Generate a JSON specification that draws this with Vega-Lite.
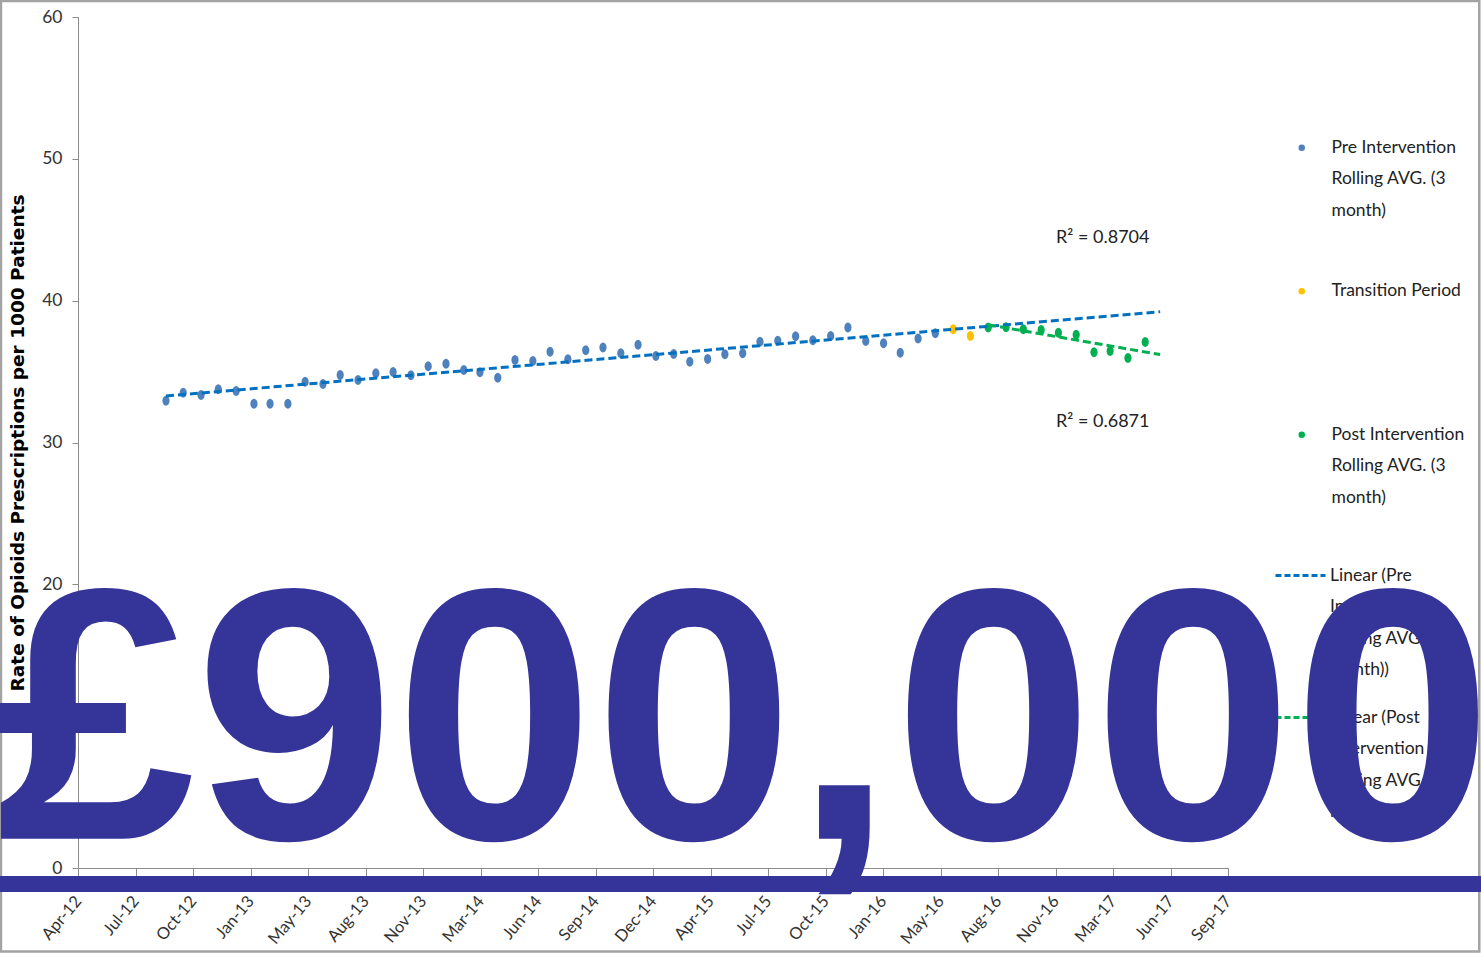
{
  "$schema": "https://vega.github.io/schema/vega-lite/v6.json",
  "width": 1150,
  "height": 851,
  "autosize": {"type": "none"},
  "padding": {"left": 78, "top": 17, "right": 253, "bottom": 86},
  "background": "white",
  "config": {
    "view": {"stroke": null},
    "font": "Lato",
    "style": {"guide-label": {"lineHeight": 31.5}}
  },
  "title": {
    "text": "£900,000",
    "orient": "bottom",
    "anchor": "middle",
    "frame": "group",
    "font": "Liberation Sans",
    "fontWeight": "bold",
    "fontSize": 359,
    "color": "#343499",
    "baseline": "alphabetic",
    "offset": -114,
    "dx": 91,
    "limit": 3000
  },
  "datasets": {
    "pts": [
      {"date": "2012-09-01", "value": 32.95, "series": "Pre Intervention Rolling AVG. (3 month)"},
      {"date": "2012-10-01", "value": 33.51, "series": "Pre Intervention Rolling AVG. (3 month)"},
      {"date": "2012-11-01", "value": 33.35, "series": "Pre Intervention Rolling AVG. (3 month)"},
      {"date": "2012-12-01", "value": 33.75, "series": "Pre Intervention Rolling AVG. (3 month)"},
      {"date": "2013-01-01", "value": 33.63, "series": "Pre Intervention Rolling AVG. (3 month)"},
      {"date": "2013-02-01", "value": 32.74, "series": "Pre Intervention Rolling AVG. (3 month)"},
      {"date": "2013-03-01", "value": 32.74, "series": "Pre Intervention Rolling AVG. (3 month)"},
      {"date": "2013-04-01", "value": 32.74, "series": "Pre Intervention Rolling AVG. (3 month)"},
      {"date": "2013-05-01", "value": 34.29, "series": "Pre Intervention Rolling AVG. (3 month)"},
      {"date": "2013-06-01", "value": 34.13, "series": "Pre Intervention Rolling AVG. (3 month)"},
      {"date": "2013-07-01", "value": 34.76, "series": "Pre Intervention Rolling AVG. (3 month)"},
      {"date": "2013-08-01", "value": 34.41, "series": "Pre Intervention Rolling AVG. (3 month)"},
      {"date": "2013-09-01", "value": 34.88, "series": "Pre Intervention Rolling AVG. (3 month)"},
      {"date": "2013-10-01", "value": 34.97, "series": "Pre Intervention Rolling AVG. (3 month)"},
      {"date": "2013-11-01", "value": 34.74, "series": "Pre Intervention Rolling AVG. (3 month)"},
      {"date": "2013-12-01", "value": 35.37, "series": "Pre Intervention Rolling AVG. (3 month)"},
      {"date": "2014-01-01", "value": 35.56, "series": "Pre Intervention Rolling AVG. (3 month)"},
      {"date": "2014-02-01", "value": 35.11, "series": "Pre Intervention Rolling AVG. (3 month)"},
      {"date": "2014-03-01", "value": 34.95, "series": "Pre Intervention Rolling AVG. (3 month)"},
      {"date": "2014-04-01", "value": 34.57, "series": "Pre Intervention Rolling AVG. (3 month)"},
      {"date": "2014-05-01", "value": 35.82, "series": "Pre Intervention Rolling AVG. (3 month)"},
      {"date": "2014-06-01", "value": 35.75, "series": "Pre Intervention Rolling AVG. (3 month)"},
      {"date": "2014-07-01", "value": 36.40, "series": "Pre Intervention Rolling AVG. (3 month)"},
      {"date": "2014-08-01", "value": 35.87, "series": "Pre Intervention Rolling AVG. (3 month)"},
      {"date": "2014-09-01", "value": 36.50, "series": "Pre Intervention Rolling AVG. (3 month)"},
      {"date": "2014-10-01", "value": 36.69, "series": "Pre Intervention Rolling AVG. (3 month)"},
      {"date": "2014-11-01", "value": 36.29, "series": "Pre Intervention Rolling AVG. (3 month)"},
      {"date": "2014-12-01", "value": 36.90, "series": "Pre Intervention Rolling AVG. (3 month)"},
      {"date": "2015-01-01", "value": 36.10, "series": "Pre Intervention Rolling AVG. (3 month)"},
      {"date": "2015-02-01", "value": 36.24, "series": "Pre Intervention Rolling AVG. (3 month)"},
      {"date": "2015-03-01", "value": 35.70, "series": "Pre Intervention Rolling AVG. (3 month)"},
      {"date": "2015-04-01", "value": 35.89, "series": "Pre Intervention Rolling AVG. (3 month)"},
      {"date": "2015-05-01", "value": 36.22, "series": "Pre Intervention Rolling AVG. (3 month)"},
      {"date": "2015-06-01", "value": 36.29, "series": "Pre Intervention Rolling AVG. (3 month)"},
      {"date": "2015-07-01", "value": 37.11, "series": "Pre Intervention Rolling AVG. (3 month)"},
      {"date": "2015-08-01", "value": 37.18, "series": "Pre Intervention Rolling AVG. (3 month)"},
      {"date": "2015-09-01", "value": 37.49, "series": "Pre Intervention Rolling AVG. (3 month)"},
      {"date": "2015-10-01", "value": 37.21, "series": "Pre Intervention Rolling AVG. (3 month)"},
      {"date": "2015-11-01", "value": 37.51, "series": "Pre Intervention Rolling AVG. (3 month)"},
      {"date": "2015-12-01", "value": 38.10, "series": "Pre Intervention Rolling AVG. (3 month)"},
      {"date": "2016-01-01", "value": 37.16, "series": "Pre Intervention Rolling AVG. (3 month)"},
      {"date": "2016-02-01", "value": 36.99, "series": "Pre Intervention Rolling AVG. (3 month)"},
      {"date": "2016-03-01", "value": 36.33, "series": "Pre Intervention Rolling AVG. (3 month)"},
      {"date": "2016-04-01", "value": 37.33, "series": "Pre Intervention Rolling AVG. (3 month)"},
      {"date": "2016-05-01", "value": 37.70, "series": "Pre Intervention Rolling AVG. (3 month)"},
      {"date": "2016-06-01", "value": 37.98, "series": "Transition Period"},
      {"date": "2016-07-01", "value": 37.51, "series": "Transition Period"},
      {"date": "2016-08-01", "value": 38.10, "series": "Post Intervention Rolling AVG. (3 month)"},
      {"date": "2016-09-01", "value": 38.12, "series": "Post Intervention Rolling AVG. (3 month)"},
      {"date": "2016-10-01", "value": 37.98, "series": "Post Intervention Rolling AVG. (3 month)"},
      {"date": "2016-11-01", "value": 37.93, "series": "Post Intervention Rolling AVG. (3 month)"},
      {"date": "2016-12-01", "value": 37.74, "series": "Post Intervention Rolling AVG. (3 month)"},
      {"date": "2017-01-01", "value": 37.60, "series": "Post Intervention Rolling AVG. (3 month)"},
      {"date": "2017-02-01", "value": 36.36, "series": "Post Intervention Rolling AVG. (3 month)"},
      {"date": "2017-03-01", "value": 36.45, "series": "Post Intervention Rolling AVG. (3 month)"},
      {"date": "2017-04-01", "value": 35.96, "series": "Post Intervention Rolling AVG. (3 month)"},
      {"date": "2017-05-01", "value": 37.09, "series": "Post Intervention Rolling AVG. (3 month)"}
    ],
    "trends": [
      {"trend": "Linear (Pre Intervention Rolling AVG. (3 month))", "date": "2012-09-01", "value": 33.28},
      {"trend": "Linear (Pre Intervention Rolling AVG. (3 month))", "date": "2017-05-27", "value": 39.22},
      {"trend": "Linear (Post Intervention Rolling AVG. (3 month))", "date": "2016-08-01", "value": 38.30},
      {"trend": "Linear (Post Intervention Rolling AVG. (3 month))", "date": "2017-05-27", "value": 36.20}
    ],
    "r2": [
      {"label": "R² = 0.8704", "date": "2016-11-27", "value": 44.4},
      {"label": "R² = 0.6871", "date": "2016-11-27", "value": 31.47}
    ]
  },
  "layer": [
    {
      "data": {"values": [{}]},
      "mark": {"type": "rect", "filled": false, "stroke": "#a3a3a3", "strokeWidth": 2.5},
      "encoding": {
        "x": {"datum": {"year": 2011, "month": 11, "date": 19}, "type": "temporal"},
        "x2": {"datum": {"year": 2018, "month": 12, "date": 3}},
        "y": {"datum": 61.13, "type": "quantitative"},
        "y2": {"datum": -5.89}
      }
    },
    {
      "data": {"name": "pts"},
      "mark": {
        "type": "point",
        "filled": true,
        "opacity": 1,
        "strokeWidth": 0,
        "shape": "M -0.72 0 A 0.72 1 0 1 1 0.72 0 A 0.72 1 0 1 1 -0.72 0 Z",
        "size": 100
      },
      "encoding": {
        "x": {
          "field": "date",
          "type": "temporal",
          "scale": {"domain": [{"year": 2012, "month": 4, "date": 1}, {"year": 2017, "month": 9, "date": 22}]},
          "axis": {
            "title": null,
            "grid": false,
            "format": "%b-%y",
            "values": [
              {"year": 2012, "month": 4, "date": 1},
              {"year": 2012, "month": 7, "date": 10},
              {"year": 2012, "month": 10, "date": 18},
              {"year": 2013, "month": 1, "date": 26},
              {"year": 2013, "month": 5, "date": 6},
              {"year": 2013, "month": 8, "date": 14},
              {"year": 2013, "month": 11, "date": 22},
              {"year": 2014, "month": 3, "date": 2},
              {"year": 2014, "month": 6, "date": 10},
              {"year": 2014, "month": 9, "date": 18},
              {"year": 2014, "month": 12, "date": 27},
              {"year": 2015, "month": 4, "date": 6},
              {"year": 2015, "month": 7, "date": 15},
              {"year": 2015, "month": 10, "date": 23},
              {"year": 2016, "month": 1, "date": 31},
              {"year": 2016, "month": 5, "date": 10},
              {"year": 2016, "month": 8, "date": 18},
              {"year": 2016, "month": 11, "date": 26},
              {"year": 2017, "month": 3, "date": 6},
              {"year": 2017, "month": 6, "date": 14},
              {"year": 2017, "month": 9, "date": 22}
            ],
            "labelAngle": -50,
            "labelAlign": "right",
            "labelBaseline": "middle",
            "labelFont": "Lato",
            "labelFontSize": 16.5,
            "labelColor": "#333333",
            "labelPadding": 22,
            "labelOverlap": false,
            "labelFlush": false,
            "labelBound": false,
            "tickSize": 8,
            "tickColor": "#8c8c8c",
            "domainColor": "#8c8c8c"
          }
        },
        "y": {
          "field": "value",
          "type": "quantitative",
          "scale": {"domain": [0, 60]},
          "axis": {
            "title": "Rate of Opioids Prescriptions per 1000 Patients",
            "titleFont": "DejaVu Sans",
            "titleFontWeight": "bold",
            "titleFontSize": 18.5,
            "titleColor": "#000000",
            "titlePadding": 14,
            "values": [0, 10, 20, 30, 40, 50, 60],
            "grid": false,
            "labelFont": "Lato",
            "labelFontSize": 17.5,
            "labelColor": "#333333",
            "labelPadding": 10,
            "tickSize": 6,
            "tickColor": "#8c8c8c",
            "domainColor": "#8c8c8c"
          }
        },
        "fill": {
          "field": "series",
          "type": "nominal",
          "scale": {
            "domain": ["Pre Intervention Rolling AVG. (3 month)", "Transition Period", "Post Intervention Rolling AVG. (3 month)"],
            "range": ["#4f81bd", "#ffc000", "#00b050"]
          },
          "legend": {
            "orient": "none",
            "legendX": 1215,
            "legendY": 122,
            "title": null,
            "padding": 0,
            "symbolType": "circle",
            "symbolSize": 42,
            "symbolStrokeWidth": 0,
            "labelFont": "Lato",
            "labelFontSize": 17.5,
            "labelColor": "#222222",
            "labelOffset": 21,
            "labelLimit": 400,
            "labelBaseline": "middle",
            "rowPadding": 61.5,
            "labelExpr": "datum.label == 'Transition Period' ? ['Transition Period', '', ''] : indexof(datum.label, 'Pre') == 0 ? ['Pre Intervention', 'Rolling AVG. (3', 'month)'] : ['Post Intervention', 'Rolling AVG. (3', 'month)']"
          }
        }
      }
    },
    {
      "data": {"name": "trends"},
      "mark": {"type": "line", "strokeWidth": 3, "strokeDash": [8, 4]},
      "encoding": {
        "x": {"field": "date", "type": "temporal"},
        "y": {"field": "value", "type": "quantitative"},
        "stroke": {
          "field": "trend",
          "type": "nominal",
          "scale": {
            "domain": ["Linear (Pre Intervention Rolling AVG. (3 month))", "Linear (Post Intervention Rolling AVG. (3 month))"],
            "range": ["#0070c0", "#00b050"]
          },
          "legend": {
            "orient": "none",
            "legendX": 1196,
            "legendY": 532,
            "title": null,
            "padding": 0,
            "symbolType": "stroke",
            "symbolSize": 2500,
            "symbolStrokeWidth": 3,
            "symbolDash": [6, 3],
            "labelFont": "Lato",
            "labelFontSize": 17.5,
            "labelColor": "#222222",
            "labelOffset": 3,
            "labelLimit": 400,
            "labelBaseline": "middle",
            "rowPadding": 12,
            "labelExpr": "indexof(datum.label, 'Pre') >= 0 ? ['Linear (Pre', 'Intervention', 'Rolling AVG. (3', 'month))'] : ['Linear (Post', 'Intervention', 'Rolling AVG. (3', 'month))']"
          }
        }
      }
    },
    {
      "data": {"name": "r2"},
      "mark": {"type": "text", "align": "left", "baseline": "middle", "font": "Lato", "fontSize": 18, "color": "#222222"},
      "encoding": {
        "x": {"field": "date", "type": "temporal"},
        "y": {"field": "value", "type": "quantitative"},
        "text": {"field": "label"}
      }
    },
    {
      "data": {"values": [{}]},
      "mark": {"type": "rule", "strokeWidth": 16, "color": "#34349a"},
      "encoding": {
        "x": {"datum": {"year": 2011, "month": 11, "date": 17}, "type": "temporal"},
        "x2": {"datum": {"year": 2018, "month": 12, "date": 6}},
        "y": {"datum": -1.13, "type": "quantitative"}
      }
    }
  ]
}
